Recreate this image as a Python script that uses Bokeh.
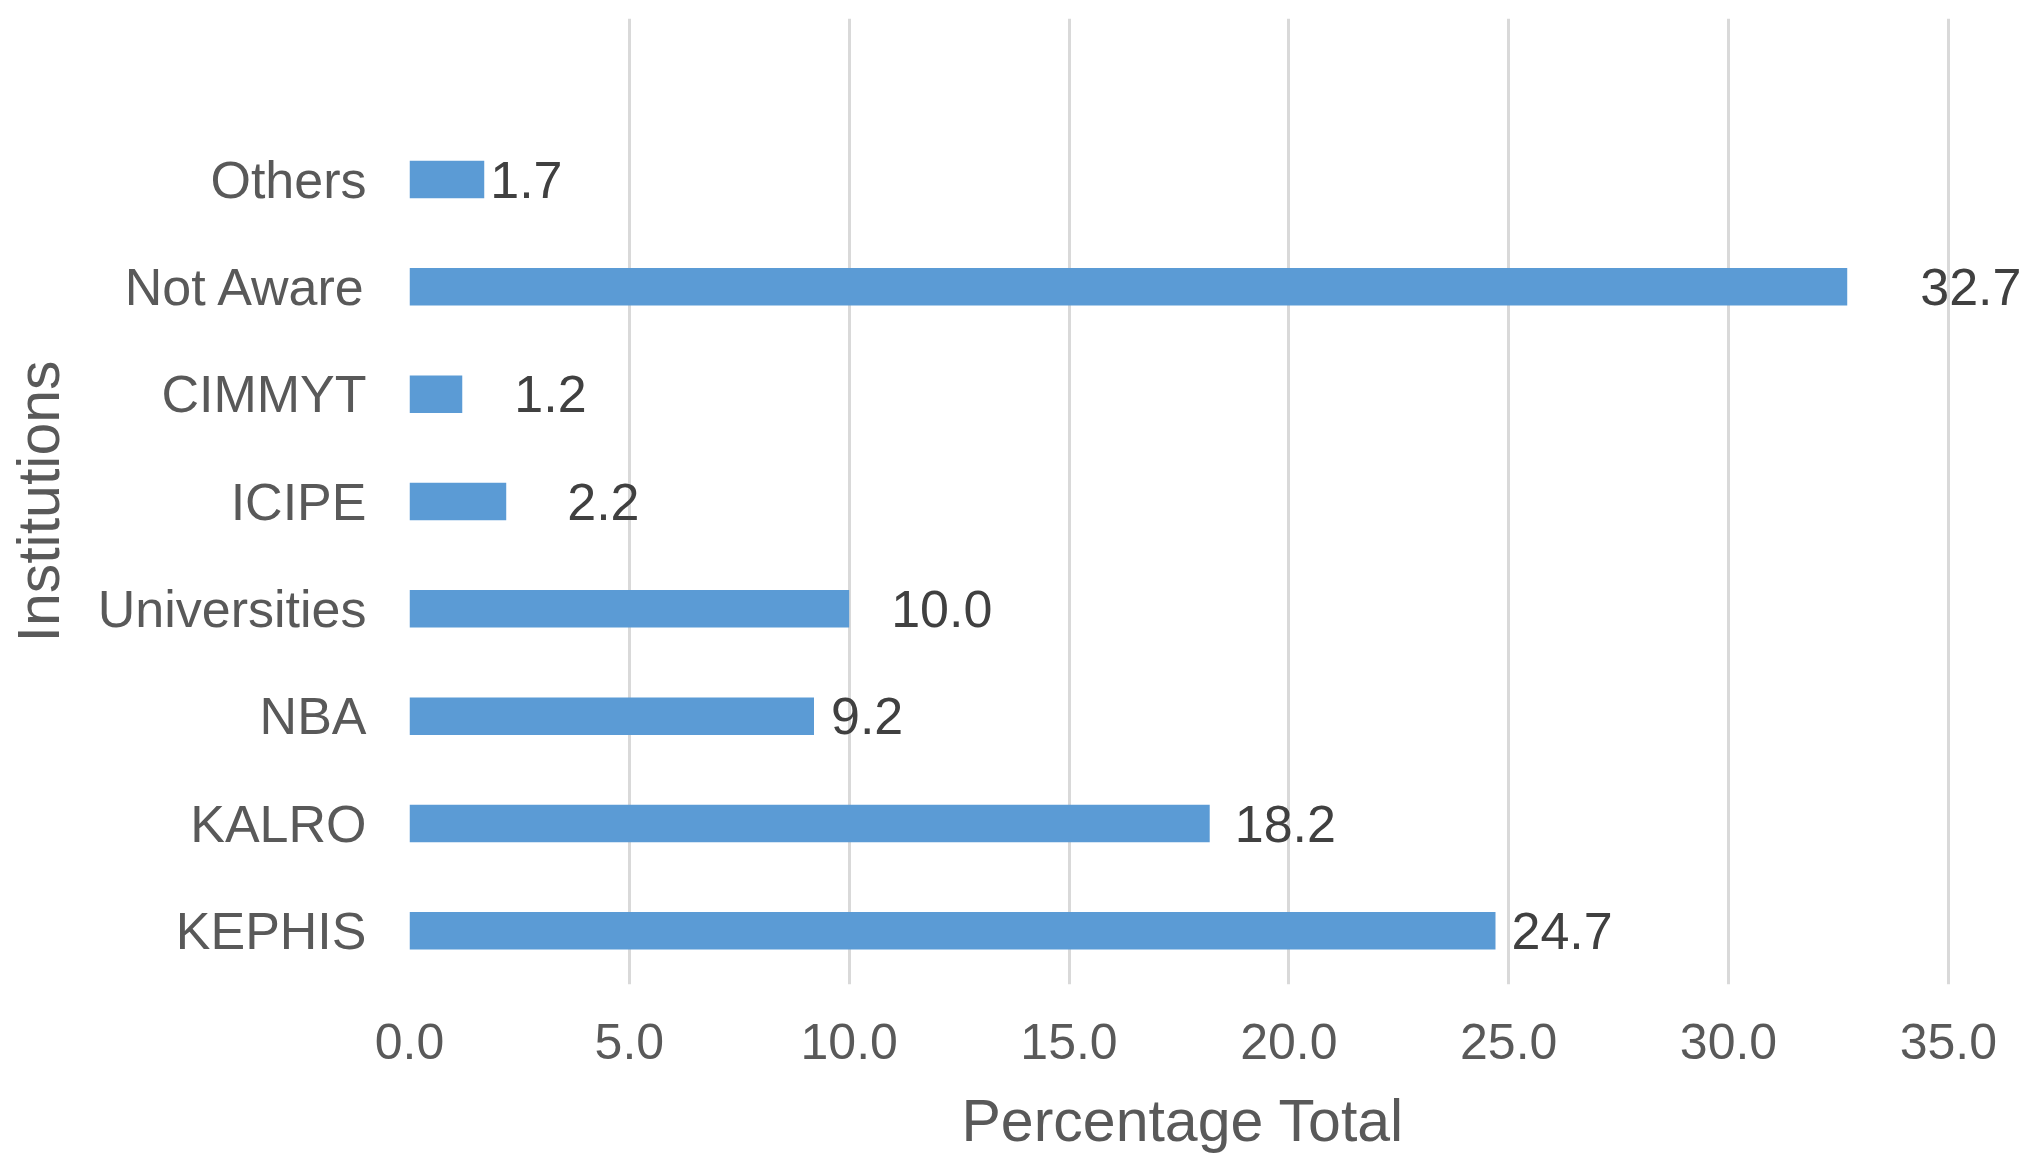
from bokeh.plotting import figure
from bokeh.models import ColumnDataSource, FixedTicker, NumeralTickFormatter, Range1d, Title
from bokeh.core.properties import value
from bokeh.embed import file_html
from bokeh.resources import INLINE

# ---- data (bottom to top) ----
categories = ["KEPHIS", "KALRO", "NBA", "Universities", "ICIPE", "CIMMYT", "Not Aware", "Others"]
values = [24.7, 18.2, 9.2, 10.0, 2.2, 1.2, 32.7, 1.7]
x_ticks = [0, 5, 10, 15, 20, 25, 30, 35]
# per-label horizontal nudges (screen px), as placed in the original
label_dx = [16, 25, 17, 42, 61, 52, 73, 6]

FONT = "Liberation Sans"
TXT = "#595959"

pos = list(range(len(categories)))
src = ColumnDataSource(dict(
    y=pos, v=values, lab=[f"{v:.1f}" for v in values], dx=label_dx,
))

p = figure(
    output_backend="svg", toolbar_location=None,
    frame_width=1618, frame_height=966,
    min_border_left=409, min_border_right=0,
    min_border_top=18, min_border_bottom=30,
    x_range=Range1d(0, 36.8), y_range=Range1d(-0.5, len(categories) + 0.5),
    background_fill_color="white", border_fill_color="white",
)
p.outline_line_color = None

p.hbar(y="y", right="v", left=0, height=0.35, source=src,
       fill_color="#5B9BD5", line_color=None)

p.text(x="v", y="y", text="lab", x_offset="dx", source=src,
       text_font=value(FONT), text_font_size="52px", text_color="#404040",
       text_baseline="middle", text_align="left")

# x axis
xa = p.xaxis[0]
xa.ticker = FixedTicker(ticks=x_ticks)
xa.formatter = NumeralTickFormatter(format="0.0")
xa.axis_line_color = None
xa.major_tick_line_color = None
xa.minor_tick_line_color = None
xa.major_label_text_font = FONT
xa.major_label_text_font_size = "50px"
xa.major_label_text_color = TXT
xa.major_label_standoff = 33

# x axis title, centred under the 0-35 scale
xt = Title(text="Percentage Total", align="left", offset=552, standoff=49,
           text_font=FONT, text_font_size="59px", text_font_style="normal",
           text_color=TXT)
p.add_layout(xt, "below")

# y axis
ya = p.yaxis[0]
ya.ticker = FixedTicker(ticks=pos)
ya.major_label_overrides = {i: c for i, c in zip(pos, categories)}
ya.axis_line_color = None
ya.major_tick_line_color = None
ya.minor_tick_line_color = None
ya.major_label_text_font = FONT
ya.major_label_text_font_size = "52px"
ya.major_label_text_color = TXT
ya.major_label_standoff = 37
ya.axis_label = "Institutions"
ya.axis_label_text_font = FONT
ya.axis_label_text_font_size = "59px"
ya.axis_label_text_font_style = "normal"
ya.axis_label_text_color = TXT
ya.axis_label_standoff = 23

p.xgrid.grid_line_color = "#D9D9D9"
p.xgrid.grid_line_width = 3
p.ygrid.grid_line_color = None

open("out.html", "w").write(file_html(p, INLINE))
